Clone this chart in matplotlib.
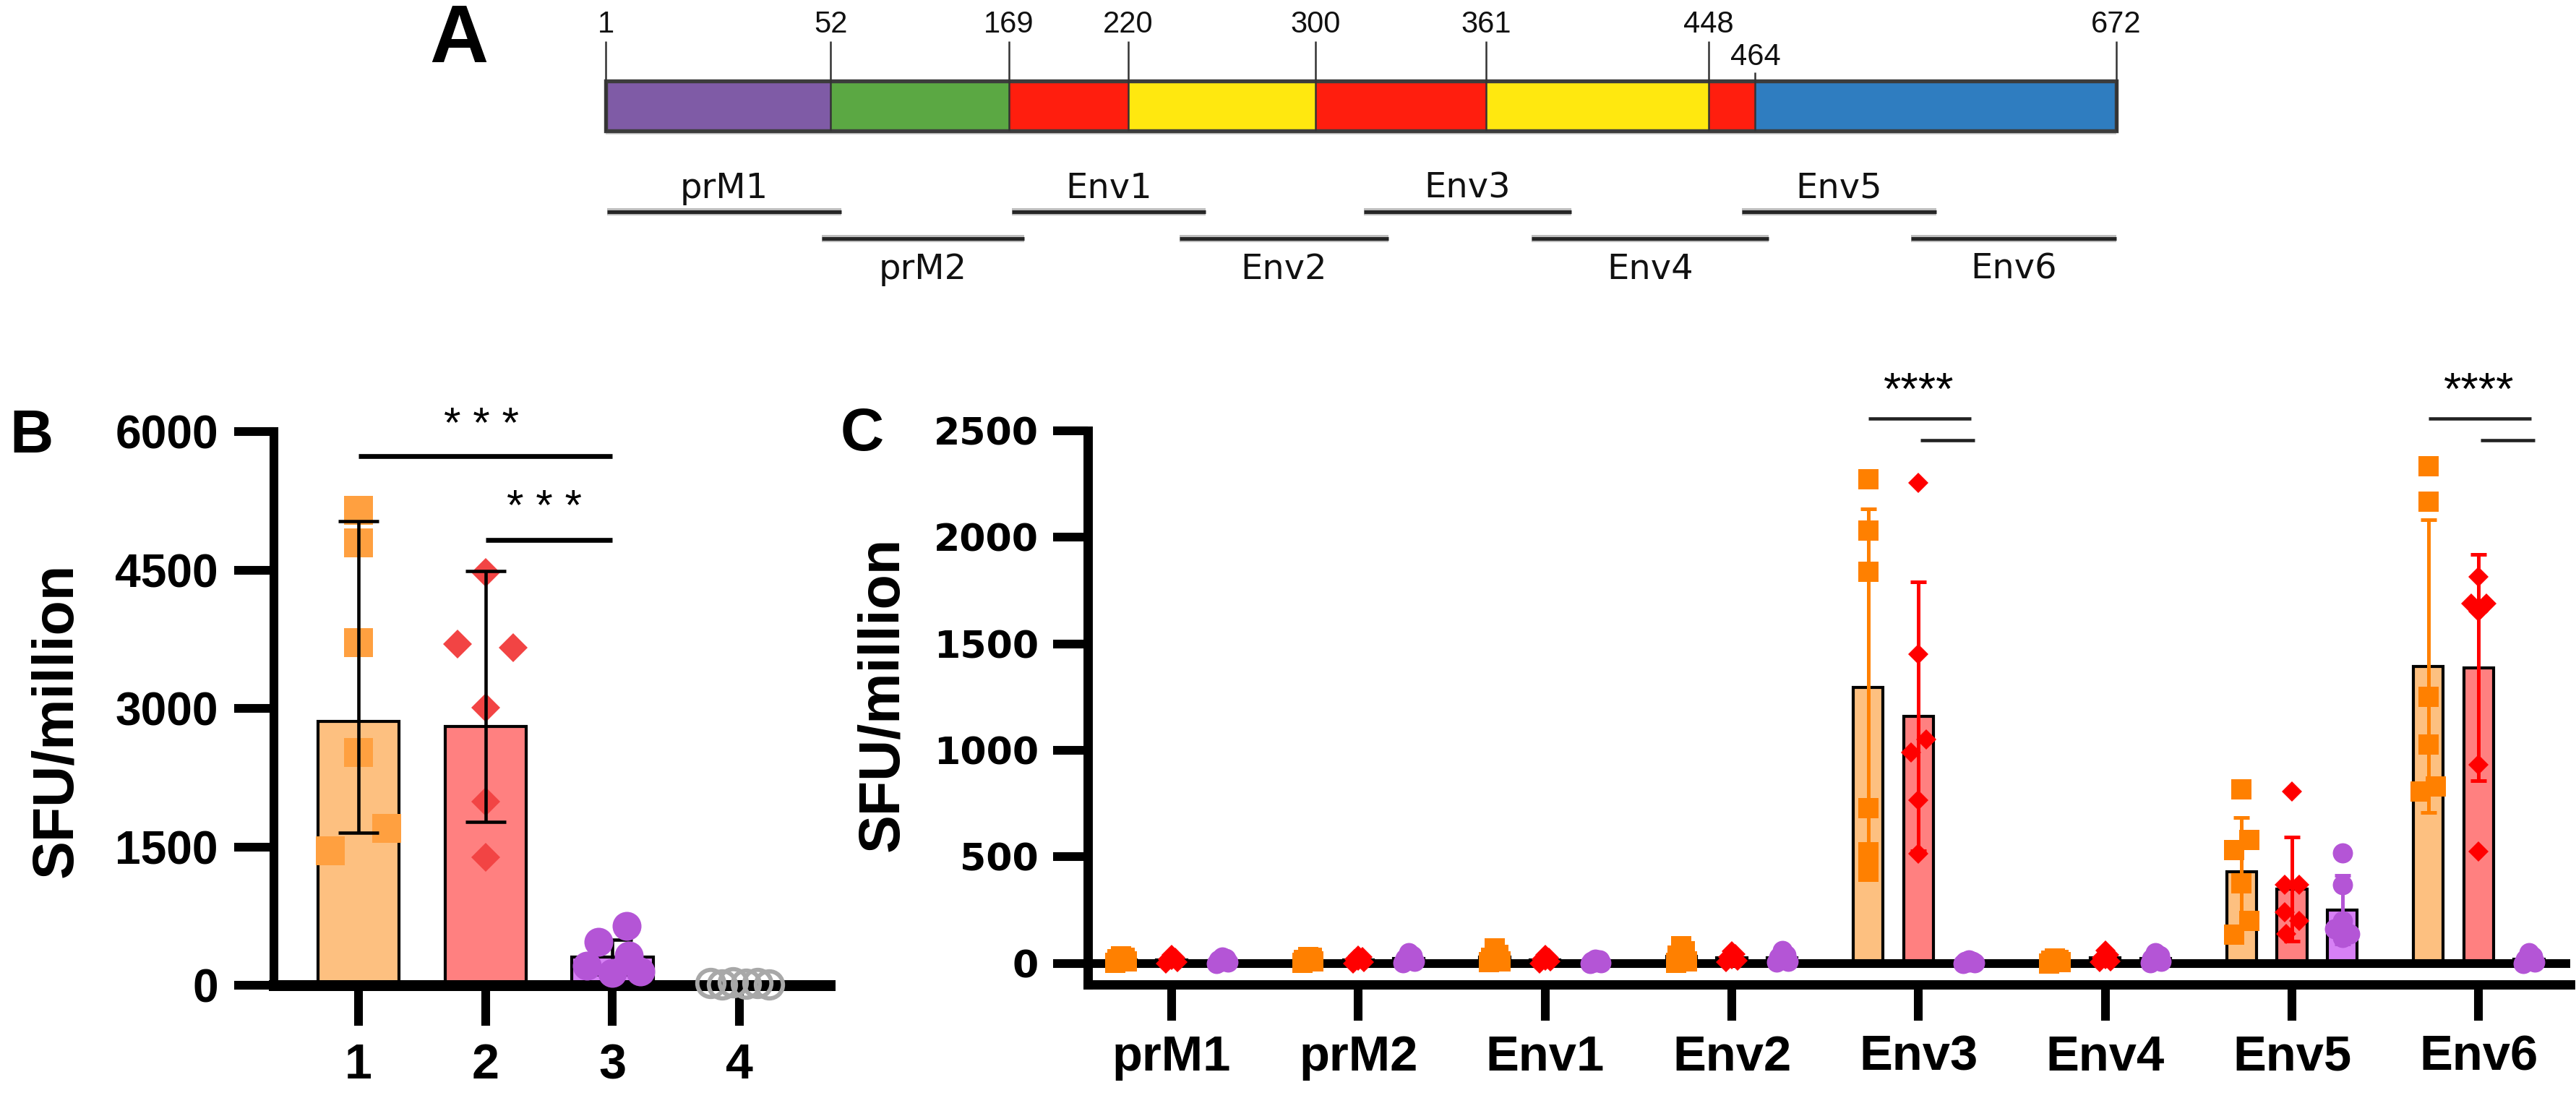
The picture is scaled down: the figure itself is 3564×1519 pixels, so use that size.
import numpy as np
import matplotlib
matplotlib.use("Agg")
import matplotlib.pyplot as plt
from matplotlib.patches import Rectangle

plt.rcParams['font.family'] = ['Liberation Sans', 'DejaVu Sans']

W, H, DPI = 3564, 1519, 300

# ---------------- DATA ----------------
# Panel A: domain boundaries (residue numbers) and colours of segments
boundary_labels = ['1', '52', '169', '220', '300', '361', '448', '464', '672']
segment_colors = ['#7F5BA6', '#5BA843', '#FF1E0E', '#FFE80F', '#FF1E0E',
                  '#FFE80F', '#FF1E0E', '#2F7DC0']
pool_names = ['prM1', 'prM2', 'Env1', 'Env2', 'Env3', 'Env4', 'Env5', 'Env6']

# Panel B
b_groups = ['1', '2', '3', '4']
b_points = [
    [5150, 4790, 3710, 2520, 1700, 1460],
    [4470, 3700, 3660, 3010, 1990, 1390],
    [640, 470, 320, 210, 150, 130],
    [20, 10, 30, 15, 25, 5],
]
b_means = [2860, 2806, 305, 0]
b_err_low = [1653, 1768, 120, 0]
b_err_high = [5032, 4489, 490, 0]
b_sig_text = ['* * *', '* * *']
b_sig_pairs = [(0, 2), (1, 2)]
b_sig_levels = [5736, 4828]

# Panel C
c_cats = ['prM1', 'prM2', 'Env1', 'Env2', 'Env3', 'Env4', 'Env5', 'Env6']
c_orange = [
    [3, 8, 12, 20, 27, 34],
    [2, 7, 11, 16, 24, 30],
    [4, 10, 18, 25, 40, 70],
    [2, 10, 20, 35, 55, 80],
    [2274, 2031, 1837, 728, 520, 430],
    [0, 4, 8, 12, 16, 22],
    [818, 580, 530, 376, 200, 135],
    [2334, 2166, 1251, 1026, 830, 805],
]
c_red = [
    [0, 6, 14, 18, 25, 40],
    [0, 5, 12, 20, 28, 36],
    [0, 8, 12, 20, 26, 38],
    [5, 12, 20, 30, 42, 55],
    [2257, 1451, 1052, 991, 766, 515],
    [4, 10, 18, 26, 40, 60],
    [806, 370, 370, 240, 200, 138],
    [1815, 1690, 1690, 1650, 931, 523],
]
c_purple = [
    [0, 4, 9, 15, 22, 30],
    [3, 10, 15, 22, 35, 50],
    [0, 3, 6, 10, 15, 20],
    [4, 10, 18, 28, 40, 60],
    [0, 2, 5, 8, 10, 14],
    [3, 8, 15, 22, 35, 48],
    [518, 370, 200, 160, 138, 121],
    [0, 6, 12, 20, 32, 50],
]
c_mean_orange = [15, 13, 28, 34, 1295, 10, 430, 1395]
c_mean_red = [17, 17, 17, 27, 1159, 26, 348, 1387]
c_mean_purple = [13, 22, 9, 27, 6, 22, 251, 20]
c_sd_orange = [12, 10, 25, 30, 837, 8, 255, 687]
c_sd_red = [14, 14, 13, 19, 630, 21, 243, 531]
c_sd_purple = [11, 18, 8, 20, 5, 17, 160, 18]
c_sig_cats = [4, 7]
c_sig_text = '****'
c_sig_levels = [2558, 2455]

# ---------------- LAYOUT / STYLE ----------------
# schematic x positions (0-100) of boundaries in panel A, label row, pool spans
boundary_pos = [0, 14.9, 26.7, 34.6, 47.0, 58.3, 73.0, 76.1, 100]
boundary_row = [0, 0, 0, 0, 0, 0, 0, 1, 0]
pool_span = [(0.1, 15.6), (14.3, 27.7), (26.9, 39.7), (38.0, 51.8),
             (50.2, 63.9), (61.3, 77.0), (75.2, 88.1), (86.4, 100.0)]

b_jitter = [
    [0, 0, 0, 0, 0.22, -0.22],
    [0, -0.22, 0.22, 0, 0, 0],
    [0.11, -0.11, 0.13, -0.20, 0.22, 0.0],
    [-0.23, -0.14, -0.05, 0.05, 0.14, 0.23],
]
zero_jit = [-0.03, 0.03, 0.0, -0.02, 0.02, 0.0]
c_jitter_special = {
    ('o', 6): [0, 0.04, -0.04, 0, 0.04, -0.04],
    ('o', 7): [0, 0, 0, 0, 0.04, -0.04],
    ('r', 4): [0, 0, 0.04, -0.04, 0, 0],
    ('r', 6): [0, -0.04, 0.04, -0.04, 0.04, -0.03],
    ('r', 7): [0, -0.04, 0.04, 0, 0, 0],
    ('p', 6): [0, 0, 0, -0.04, 0.04, 0],
    ('o', 4): [0, 0, 0, 0, 0, 0],
}

B_ORANGE_M, B_RED_M, B_PURPLE_M, B_GRAY = '#FFA040', '#F24444', '#B455D6', '#A8A8A8'
ORANGE_F, RED_F, PURPLE_F = '#FDC080', '#FF8080', '#D780F5'
C_ORANGE, C_RED, C_PURPLE = '#FF8000', '#FF0000', '#B455D6'


def fx(px):
    return px / W


def fy(py):
    return 1 - py / H


fig = plt.figure(figsize=(W / DPI, H / DPI), dpi=DPI)

# ================= PANEL A =================
axA = fig.add_axes([fx(838), fy(420), 2090 / W, 420 / H])
axA.set_xlim(0, 100)
axA.set_ylim(420, 0)
axA.axis('off')
bar_top, bar_h = 112, 69
axA.add_patch(Rectangle((0, bar_top + bar_h), 100, 5, facecolor='#cfcfcf',
                        edgecolor='none', clip_on=False))
for i, col in enumerate(segment_colors):
    axA.add_patch(Rectangle((boundary_pos[i], bar_top), boundary_pos[i + 1] - boundary_pos[i],
                            bar_h, facecolor=col, edgecolor='none', clip_on=False))
axA.add_patch(Rectangle((0, bar_top), 100, bar_h, fill=False, edgecolor='#3c3c3c',
                        lw=1.3, clip_on=False))
for p, lab, row in zip(boundary_pos, boundary_labels, boundary_row):
    top = 57 if row == 0 else 100
    axA.plot([p, p], [top, bar_top + bar_h], color='#333333', lw=0.6,
             clip_on=False, solid_capstyle='butt')
    axA.text(p, 34 if row == 0 else 79, lab, ha='center', va='center',
             fontsize=10, color='#111111', family=['Liberation Sans', 'DejaVu Sans'])
for k, (name, (s, e)) in enumerate(zip(pool_names, pool_span)):
    upper = (k % 2 == 0)
    ly = 293 if upper else 330
    axA.plot([s, e], [ly, ly], color='#bdbdbd', lw=2.4, clip_on=False,
             solid_capstyle='butt')
    axA.plot([s, e], [ly, ly], color='#262626', lw=1.2, clip_on=False,
             solid_capstyle='butt')
    axA.text((s + e) / 2, 260 if upper else 372, name, ha='center', va='center',
             fontsize=11.5, family=['DejaVu Sans'], color='#111111')

fig.text(fx(635), fy(57), 'A', fontsize=27, fontweight='bold', ha='center',
         va='center')

# ================= PANEL B =================
axB = fig.add_axes([fx(379), fy(1363), (1148 - 379) / W, (1363 - 597) / H])
xb = np.arange(len(b_groups))
axB.set_xlim(-0.666, 3.71)
axB.set_ylim(0, 6000)
for sp in ['top', 'right']:
    axB.spines[sp].set_visible(False)
axB.spines['left'].set_linewidth(2.9)
axB.spines['bottom'].set_linewidth(3.6)
axB.set_yticks([0, 1500, 3000, 4500, 6000])
axB.set_xticks(xb)
axB.set_xticklabels(b_groups)
axB.tick_params(axis='y', length=13.2, width=2.9, pad=5.3, labelsize=15.4)
axB.tick_params(axis='x', length=13.5, width=2.9, pad=5.5, labelsize=16.4)
for t in axB.get_xticklabels() + axB.get_yticklabels():
    t.set_fontweight('bold')

b_fill = [ORANGE_F, RED_F, PURPLE_F, '#FFFFFF']
axB.bar(xb, b_means, width=0.64, color=b_fill, edgecolor='black', lw=1.0, zorder=2)
b_mark = [('s', B_ORANGE_M, 9.6), ('D', B_RED_M, 6.8), ('o', B_PURPLE_M, 9.6)]
for g in range(3):
    m, c, ms = b_mark[g]
    axB.plot(xb[g] + np.array(b_jitter[g]), b_points[g], ls='none', marker=m, ms=ms,
             mfc=c, mec='none', zorder=3, clip_on=False)
axB.plot(xb[3] + np.array(b_jitter[3]), b_points[3], ls='none', marker='o', ms=9.0,
         mfc='none', mec=B_GRAY, mew=1.4, zorder=5, clip_on=False)
for g in range(3):
    axB.errorbar(xb[g], b_means[g],
                 yerr=[[b_means[g] - b_err_low[g]], [b_err_high[g] - b_means[g]]],
                 fmt='none', ecolor='black', elinewidth=1.1, capsize=6.8,
                 capthick=1.1, zorder=4 if g < 2 else 2.5)
for (a, b), lvl, txt in zip(b_sig_pairs, b_sig_levels, b_sig_text):
    axB.plot([xb[a], xb[b]], [lvl, lvl], color='black', lw=1.6, clip_on=False,
             solid_capstyle='butt', zorder=5)
axB.text((xb[0] + xb[2]) / 2 - 0.03, 5939, b_sig_text[0], ha='center', va='baseline',
         fontsize=14.5)
axB.text((xb[1] + xb[2]) / 2 - 0.04, 5047, b_sig_text[1], ha='center', va='baseline',
         fontsize=14.5)
fig.text(fx(79), fy(996), 'SFU/million', rotation=90, ha='center', va='center',
         fontsize=19, fontweight='bold')
fig.text(fx(43), fy(604), 'B', fontsize=20, fontweight='bold', ha='center',
         va='center')

# ================= PANEL C =================
axC = fig.add_axes([fx(1505), fy(1362), (3556 - 1505) / W, (1362 - 596) / H])
xc = np.arange(len(c_cats))
axC.set_xlim(-0.449, 7.49)
axC.set_ylim(-100, 2500)
for sp in ['top', 'right']:
    axC.spines[sp].set_visible(False)
axC.spines['left'].set_linewidth(3.1)
axC.spines['bottom'].set_linewidth(3.1)
axC.set_yticks([0, 500, 1000, 1500, 2000, 2500])
axC.set_xticks(xc)
axC.set_xticklabels(c_cats)
axC.tick_params(axis='y', length=11.5, width=2.9, pad=4.8, labelsize=12.5)
axC.tick_params(axis='x', length=12, width=2.9, pad=4.5, labelsize=16.5)
for t in axC.get_xticklabels():
    t.set_fontweight('bold')
for t in axC.get_yticklabels():
    t.set_fontweight('bold')
    t.set_family('DejaVu Sans')
axC.axhline(0, color='black', lw=2.9, zorder=2.5)

offs = [-0.27, 0.0, 0.27]
groups = [
    ('o', c_orange, c_mean_orange, c_sd_orange, C_ORANGE, ORANGE_F, 's', 6.5),
    ('r', c_red, c_mean_red, c_sd_red, C_RED, RED_F, 'D', 4.8),
    ('p', c_purple, c_mean_purple, c_sd_purple, C_PURPLE, PURPLE_F, 'o', 6.7),
]
for gi, (key, pts, means, sds, mc, fc, mk, ms) in enumerate(groups):
    xpos = xc + offs[gi]
    axC.bar(xpos, means, width=0.16, color=fc, edgecolor='black', lw=1.0, zorder=2)
    for ci in range(len(c_cats)):
        jit = c_jitter_special.get((key, ci))
        if jit is None:
            jit = zero_jit if max(pts[ci]) < 150 else [0] * 6
        axC.plot(xpos[ci] + np.array(jit), pts[ci], ls='none', marker=mk, ms=ms,
                 mfc=mc, mec='none', zorder=3, clip_on=False)
    axC.errorbar(xpos, means, yerr=sds, fmt='none', ecolor=mc, elinewidth=1.2,
                 capsize=2.6, capthick=1.2, zorder=3.5)

for ci in c_sig_cats:
    axC.plot([ci - 0.27, ci + 0.28], [c_sig_levels[0]] * 2, color='#222222', lw=1.1,
             clip_on=False, solid_capstyle='butt')
    axC.plot([ci + 0.01, ci + 0.30], [c_sig_levels[1]] * 2, color='#222222', lw=1.1,
             clip_on=False, solid_capstyle='butt')
    axC.text(ci, 2626, c_sig_text, ha='center', va='baseline', fontsize=15)

fig.text(fx(1222), fy(960), 'SFU/million', rotation=90, ha='center', va='center',
         fontsize=19, fontweight='bold')
fig.text(fx(1193), fy(601), 'C', fontsize=20, fontweight='bold', ha='center',
         va='center')

fig.savefig('out.png', dpi=DPI)
